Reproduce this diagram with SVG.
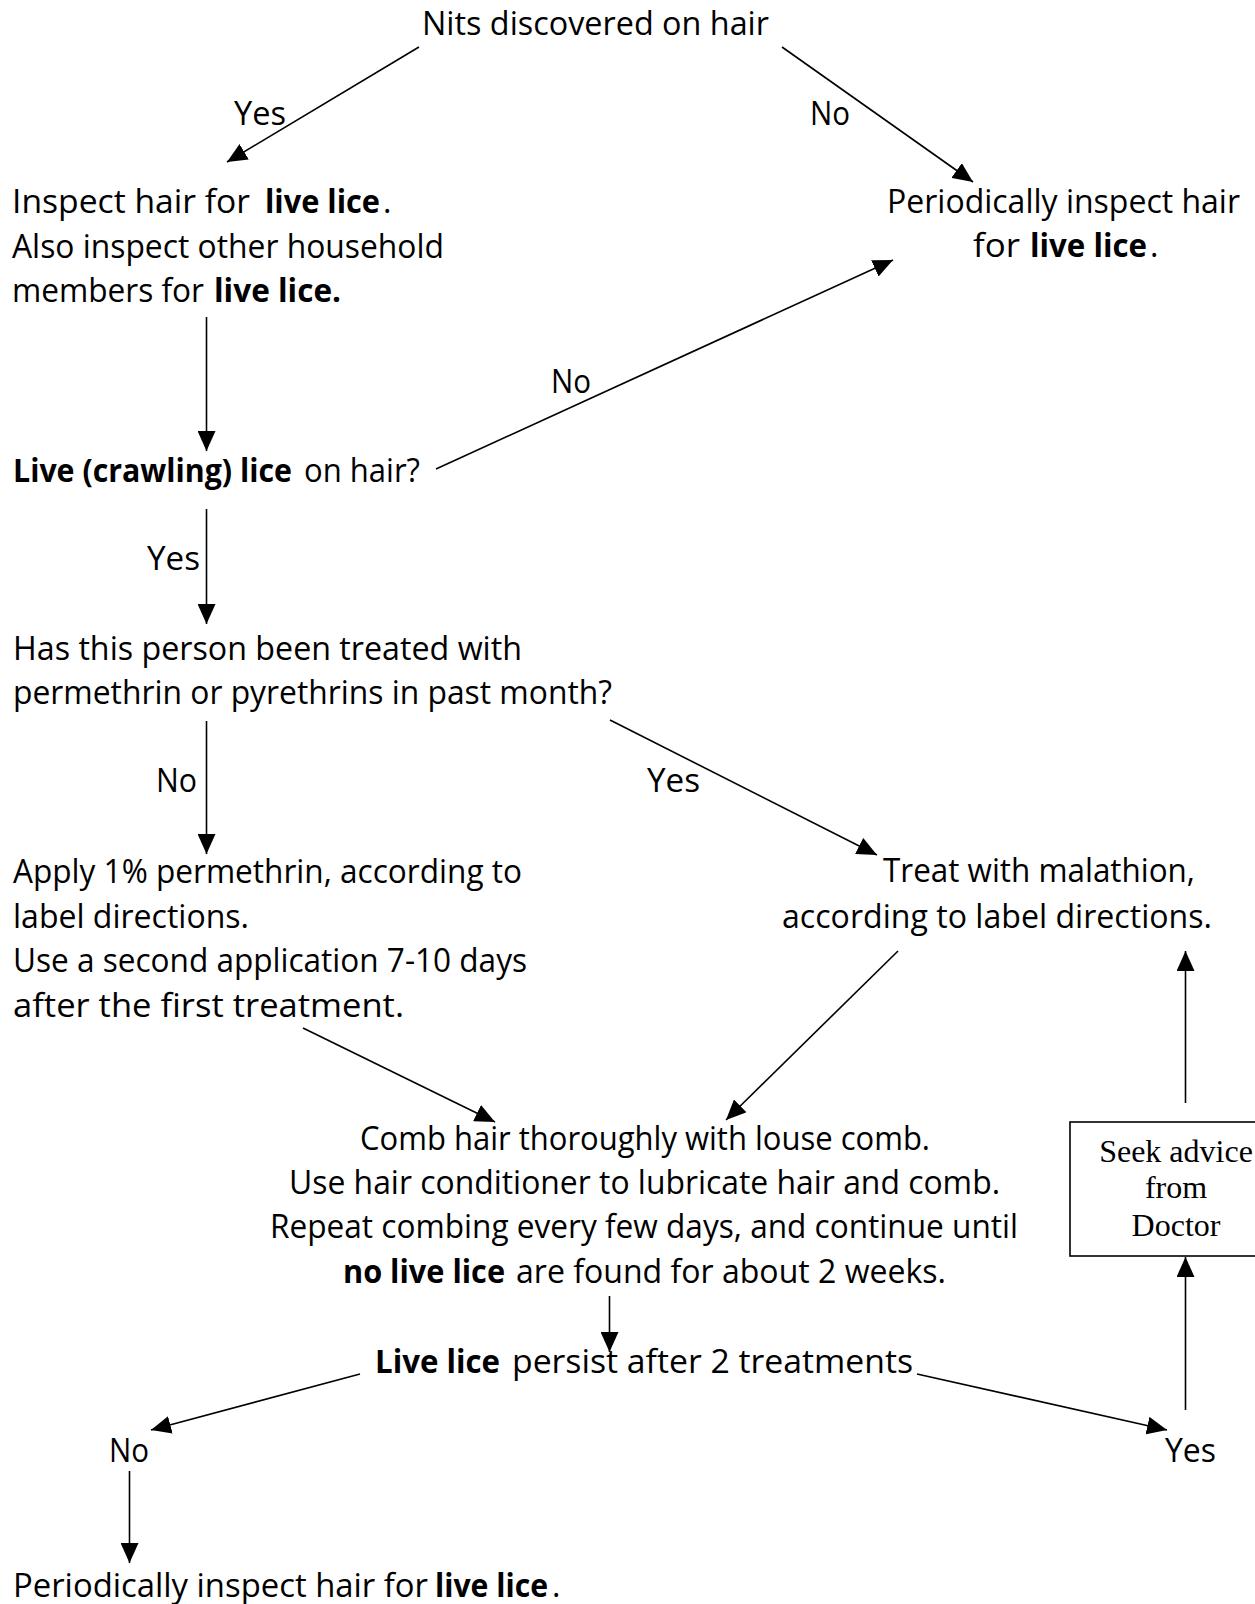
<svg xmlns="http://www.w3.org/2000/svg" width="1255" height="1604" viewBox="0 0 1255 1604">
<style>
text{font-family:"Open Sans","DejaVu Sans",sans-serif;font-size:32px;fill:#000}
.b{font-weight:bold}
.serif{font-family:"Liberation Serif","Times New Roman",serif;font-size:32px}
.edge{stroke:#000;stroke-width:1.6;fill:none;marker-end:url(#ah)}
</style>
<defs>
<marker id="ah" markerUnits="userSpaceOnUse" markerWidth="21" markerHeight="18" refX="20" refY="9" orient="auto">
<path d="M0,0 L20,9 L0,18 z" fill="#000"/>
</marker>
</defs>
<rect x="0" y="0" width="1255" height="1604" fill="#fff"/>
<g id="connectors">
<line class="edge" x1="419" y1="47" x2="227" y2="162"/>
<line class="edge" x1="782" y1="47" x2="973" y2="182"/>
<line class="edge" x1="206.5" y1="317" x2="206.5" y2="451"/>
<line class="edge" x1="436" y1="469" x2="893" y2="260"/>
<line class="edge" x1="206.5" y1="509" x2="206.5" y2="624"/>
<line class="edge" x1="206.5" y1="721" x2="206.5" y2="854"/>
<line class="edge" x1="610" y1="720" x2="877" y2="855"/>
<line class="edge" x1="898" y1="951" x2="726" y2="1120"/>
<line class="edge" x1="303" y1="1028" x2="495" y2="1122"/>
<line class="edge" x1="1185.5" y1="1103" x2="1185.5" y2="951"/>
<line class="edge" x1="609.5" y1="1296" x2="609.5" y2="1352"/>
<line class="edge" x1="360" y1="1374" x2="151" y2="1430"/>
<line class="edge" x1="917" y1="1374" x2="1167" y2="1430"/>
<line class="edge" x1="1185.5" y1="1410" x2="1185.5" y2="1257"/>
<line class="edge" x1="129.5" y1="1471" x2="129.5" y2="1563"/>
</g>
<g id="edge-labels">
<text x="234" y="125" textLength="52" lengthAdjust="spacingAndGlyphs">Yes</text>
<text x="810" y="125" textLength="40" lengthAdjust="spacingAndGlyphs">No</text>
<text x="551" y="393" textLength="40" lengthAdjust="spacingAndGlyphs">No</text>
<text x="147" y="570" textLength="53" lengthAdjust="spacingAndGlyphs">Yes</text>
<text x="156" y="792" textLength="41" lengthAdjust="spacingAndGlyphs">No</text>
<text x="647" y="792" textLength="53" lengthAdjust="spacingAndGlyphs">Yes</text>
</g>
<g id="n-nits">
<text x="422" y="35" textLength="347" lengthAdjust="spacingAndGlyphs">Nits discovered on hair</text>
</g>
<g id="n-inspect">
<text y="213"><tspan x="12" textLength="238" lengthAdjust="spacingAndGlyphs">Inspect hair for</tspan><tspan class="b" x="265" textLength="115" lengthAdjust="spacingAndGlyphs">live lice</tspan><tspan x="383">.</tspan></text>
<text x="12" y="258" textLength="432" lengthAdjust="spacingAndGlyphs">Also inspect other household</text>
<text y="302"><tspan x="12" textLength="192" lengthAdjust="spacingAndGlyphs">members for</tspan><tspan class="b" x="214" textLength="127" lengthAdjust="spacingAndGlyphs">live lice.</tspan></text>
</g>
<g id="n-periodic-top">
<text x="887" y="213" textLength="353" lengthAdjust="spacingAndGlyphs">Periodically inspect hair</text>
<text y="257"><tspan x="973" textLength="47" lengthAdjust="spacingAndGlyphs">for</tspan><tspan class="b" x="1030" textLength="117" lengthAdjust="spacingAndGlyphs">live lice</tspan><tspan x="1150">.</tspan></text>
</g>
<g id="n-live">
<text y="482"><tspan class="b" x="13" textLength="279" lengthAdjust="spacingAndGlyphs">Live (crawling) lice</tspan><tspan x="304" textLength="116" lengthAdjust="spacingAndGlyphs">on hair?</tspan></text>
</g>
<g id="n-treated">
<text x="13" y="660" textLength="509" lengthAdjust="spacingAndGlyphs">Has this person been treated with</text>
<text x="13" y="704" textLength="599" lengthAdjust="spacingAndGlyphs">permethrin or pyrethrins in past month?</text>
</g>
<g id="n-apply">
<text x="13" y="883" textLength="509" lengthAdjust="spacingAndGlyphs">Apply 1% permethrin, according to</text>
<text x="13" y="928" textLength="236" lengthAdjust="spacingAndGlyphs">label directions.</text>
<text x="13" y="972" textLength="514" lengthAdjust="spacingAndGlyphs">Use a second application 7-10 days</text>
<text x="13" y="1017" textLength="391" lengthAdjust="spacingAndGlyphs">after the first treatment.</text>
</g>
<g id="n-malathion">
<text x="883" y="882" textLength="312" lengthAdjust="spacingAndGlyphs">Treat with malathion,</text>
<text x="782" y="928" textLength="430" lengthAdjust="spacingAndGlyphs">according to label directions.</text>
</g>
<g id="n-comb">
<text x="360" y="1150" textLength="570" lengthAdjust="spacingAndGlyphs">Comb hair thoroughly with louse comb.</text>
<text x="289" y="1194" textLength="711" lengthAdjust="spacingAndGlyphs">Use hair conditioner to lubricate hair and comb.</text>
<text x="270" y="1238" textLength="748" lengthAdjust="spacingAndGlyphs">Repeat combing every few days, and continue until</text>
<text y="1283"><tspan class="b" x="343" textLength="162" lengthAdjust="spacingAndGlyphs">no live lice</tspan><tspan x="516" textLength="430" lengthAdjust="spacingAndGlyphs">are found for about 2 weeks.</tspan></text>
</g>
<g id="n-persist">
<text y="1373"><tspan class="b" x="375" textLength="125" lengthAdjust="spacingAndGlyphs">Live lice</tspan><tspan x="512" textLength="401" lengthAdjust="spacingAndGlyphs">persist after 2 treatments</tspan></text>
</g>
<g id="n-no">
<text x="109" y="1462" textLength="40" lengthAdjust="spacingAndGlyphs">No</text>
</g>
<g id="n-yes">
<text x="1165" y="1462" textLength="51" lengthAdjust="spacingAndGlyphs">Yes</text>
</g>
<g id="n-doctor">
<rect x="1070" y="1122" width="190" height="134" fill="#fff" stroke="#000" stroke-width="1.6"/>
<text class="serif" x="1176" y="1162" text-anchor="middle">Seek advice</text>
<text class="serif" x="1176" y="1198" text-anchor="middle">from</text>
<text class="serif" x="1176" y="1236" text-anchor="middle">Doctor</text>
</g>
<g id="n-periodic-bottom">
<text y="1597"><tspan x="13" textLength="415" lengthAdjust="spacingAndGlyphs">Periodically inspect hair for</tspan><tspan class="b" x="435" textLength="113" lengthAdjust="spacingAndGlyphs">live lice</tspan><tspan x="552">.</tspan></text>
</g>
</svg>
